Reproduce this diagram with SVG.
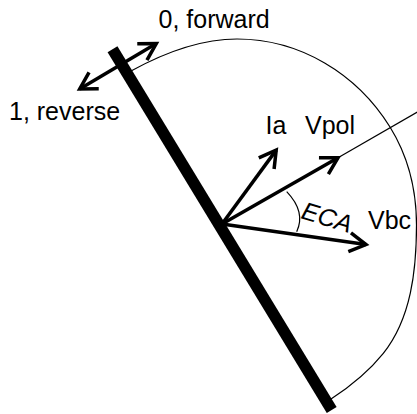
<svg xmlns="http://www.w3.org/2000/svg" width="417" height="414" viewBox="0 0 417 414">
  <style>
    .thin { fill: none; stroke: #000; stroke-width: 1.2; }
    .vec { fill: none; stroke: #000; stroke-width: 3.5; }
    .lbl { font-family: "Liberation Sans", Arial, sans-serif; font-size: 25px; fill: #000; }
  </style>
  <defs>
    <marker id="head" markerUnits="userSpaceOnUse" markerWidth="30" markerHeight="30" viewBox="-20 -15 30 30" refX="0" refY="0" orient="auto-start-reverse" overflow="visible">
      <path d="M -16.5,-9.5 L 0,0 L -16.5,9.5" fill="none" stroke="#000" stroke-width="3.5" stroke-linejoin="miter" stroke-miterlimit="10"/>
    </marker>
  </defs>
  <rect width="417" height="414" fill="#fff"/>

  <g id="sweep-arc">
    <path class="thin" d="M131,71 C163.4,53.2 200,39 237,39 C299.8,39 356.9,73.6 390,127 C407.9,155.9 416.5,191 416.5,225 C416.5,269.7 411.2,318.4 383.3,353.3 C369.2,370.9 351.7,385.4 331,399"/>
  </g>

  <g id="connectors">
    <line id="vpol-ext" class="thin" x1="338" y1="157.7" x2="426" y2="107"/>
    <path id="fwd-rev" class="vec" d="M79.7,88.9 L156.3,43.5" marker-start="url(#head)" marker-end="url(#head)"/>
    <path id="ia-vec" class="vec" d="M222,224 L276.2,150.1" marker-end="url(#head)"/>
    <path id="vpol-vec" class="vec" d="M222,224 L338,157.7" marker-end="url(#head)"/>
    <path id="vbc-vec" class="vec" d="M222,224 L366,244.5" marker-end="url(#head)"/>
    <path id="eca-arc" class="thin" d="M286.7,191.7 Q306,212 296.7,231.7"/>
  </g>

  <g id="bar">
    <line x1="112.5" y1="49.2" x2="331.7" y2="410" stroke="#000" stroke-width="11.5"/>
  </g>

  <g id="label-forward"><text class="lbl" x="158.5" y="27.5">0, forward</text></g>
  <g id="label-reverse"><text class="lbl" x="9" y="120">1, reverse</text></g>
  <g id="label-ia"><text class="lbl" x="265.5" y="134">Ia</text></g>
  <g id="label-vpol"><text class="lbl" x="305" y="134">Vpol</text></g>
  <g id="label-vbc"><text class="lbl" x="368" y="228.5">Vbc</text></g>
  <g id="label-eca"><text class="lbl" x="300" y="218" font-style="italic" transform="rotate(17 300 218)">ECA</text></g>
</svg>
